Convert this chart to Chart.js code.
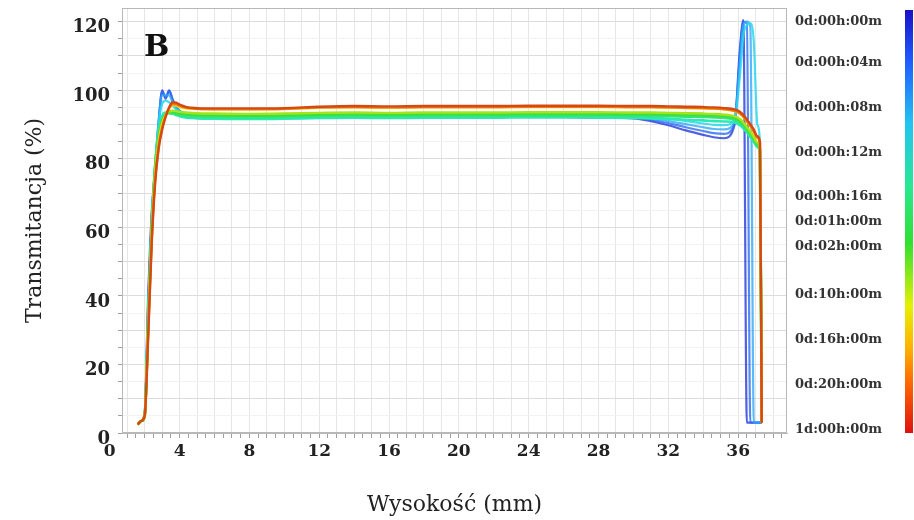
<!DOCTYPE html>
<html>
<head>
<meta charset="utf-8">
<title>Transmitancja</title>
<script src="https://cdn.jsdelivr.net/npm/chart.js@4/dist/chart.umd.min.js"></script>
<style>
  html, body { margin: 0; padding: 0; background: #fff; }
  #wrap { width: 914px; height: 520px; }
</style>
</head>
<body>
<div id="wrap"><canvas id="chart"></canvas></div>
<script>
// measurement heights (mm), shared by every curve
const heights = [1.6, 1.8, 2.0, 2.2, 2.4, 2.6, 2.8, 3.0, 3.2, 3.4, 3.6, 3.8, 4.0, 4.4, 5, 6, 8, 10, 12, 14, 16, 18, 20, 22, 24, 26, 28, 30, 31, 32, 33, 34, 34.6, 35.2, 35.8, 36.1, 36.3, 36.5, 36.7, 36.9, 37.1, 37.25, 37.35];

const seriesLabels = ['0d:00h:00m', '0d:00h:04m', '0d:00h:08m', '0d:00h:12m', '0d:00h:16m', '0d:01h:00m', '0d:02h:00m', '0d:10h:00m', '0d:16h:00m', '0d:20h:00m', '1d:00h:00m'];

// transmission (%) per scan time
const t00m = [2.5, 3.5, 6, 40, 64, 77, 90, 100, 97.5, 100, 97, 95, 93.8, 92.8, 92.2, 92, 91.9, 92, 92.2, 92.3, 92.2, 92.3, 92.3, 92.2, 92.3, 92.2, 92, 91.8, 91, 89.8, 88.3, 87, 86.3, 86, 90, 112, 120.5, 3, 3, 3, 3, 3, 3];
const t04m = [2.5, 3.5, 5.5, 38, 63, 77, 91, 99.5, 98, 99.8, 97.5, 95.2, 94, 93, 92.4, 92.2, 92.1, 92.2, 92.4, 92.5, 92.4, 92.5, 92.5, 92.4, 92.5, 92.4, 92.2, 92, 91.4, 90.4, 89.2, 88.1, 87.5, 87.3, 90.6, 110, 120, 119.5, 3, 3, 3, 3, 3];
const t08m = [2.5, 3.5, 5, 36, 62, 78, 91, 98.5, 98.5, 98.5, 96.5, 95, 94, 93.2, 92.6, 92.4, 92.3, 92.4, 92.6, 92.7, 92.6, 92.7, 92.7, 92.6, 92.7, 92.6, 92.5, 92.3, 91.8, 91, 90.1, 89.2, 88.7, 88.6, 91, 108, 119, 120, 118.5, 3, 3, 3, 3];
const t12m = [2.5, 3.5, 5, 35, 61, 78, 90, 96, 97, 96.5, 95.5, 94.5, 93.8, 93.2, 92.8, 92.6, 92.5, 92.6, 92.8, 92.9, 92.8, 92.9, 92.9, 92.8, 92.9, 92.8, 92.7, 92.6, 92.2, 91.7, 91, 90.3, 89.9, 89.8, 91.5, 104, 116, 119, 119.5, 114, 90, 85, 3];
const t16m = [2.5, 3.5, 5, 34, 60, 78, 88, 92.5, 93.5, 93.5, 93.2, 92.8, 92.4, 92, 91.8, 91.7, 91.6, 91.7, 91.9, 92, 91.9, 92, 92, 92, 92.1, 92.1, 92, 91.9, 91.8, 91.6, 91.4, 91.2, 91, 90.9, 90.6, 89.8, 88.9, 87.7, 86.4, 85, 83.4, 82, 3];
const t01h = [2.5, 3.5, 5, 33, 60, 78, 87, 91.5, 93, 93.3, 93.2, 93, 92.8, 92.5, 92.3, 92.2, 92.1, 92.2, 92.4, 92.5, 92.4, 92.5, 92.5, 92.5, 92.6, 92.6, 92.6, 92.5, 92.5, 92.4, 92.3, 92.2, 92.1, 91.9, 91.4, 90.5, 89.6, 88.3, 87, 85.5, 83.8, 82.3, 3];
const t02h = [2.5, 3.5, 5, 32, 59, 77, 86.5, 91, 92.8, 93.5, 93.6, 93.4, 93.2, 93, 92.8, 92.7, 92.6, 92.7, 92.9, 93, 92.9, 93, 93, 93, 93.1, 93.1, 93.1, 93, 93, 92.9, 92.8, 92.7, 92.6, 92.4, 91.9, 91, 90.1, 88.8, 87.4, 85.9, 84.2, 82.6, 3];
const t10h = [2.5, 3.5, 5, 31, 58, 76, 85.5, 90.5, 92.8, 93.8, 94, 93.9, 93.7, 93.5, 93.3, 93.2, 93.1, 93.2, 93.4, 93.5, 93.4, 93.5, 93.5, 93.5, 93.6, 93.6, 93.6, 93.5, 93.5, 93.4, 93.3, 93.2, 93.1, 92.9, 92.4, 91.6, 90.6, 89.3, 87.9, 86.4, 84.7, 83, 3];
const t16h = [2.5, 3.5, 5, 30, 57, 75, 84.5, 90, 92.8, 94.8, 95.6, 95.5, 95.1, 94.7, 94.5, 94.4, 94.4, 94.5, 94.9, 95, 94.9, 95, 95, 95, 95.1, 95.1, 95.1, 95, 95, 94.9, 94.8, 94.7, 94.6, 94.4, 93.9, 93.2, 92.2, 90.9, 89.5, 87.9, 86.1, 84.4, 3];
const t20h = [2.5, 3.5, 5, 29, 56, 74, 83.5, 89, 92.5, 94.8, 96, 96, 95.5, 94.9, 94.6, 94.5, 94.5, 94.6, 95, 95.1, 95, 95.1, 95.1, 95.1, 95.2, 95.2, 95.2, 95.1, 95.1, 95, 94.9, 94.8, 94.7, 94.5, 94, 93.3, 92.3, 91, 89.6, 88, 86.2, 84.5, 3];
const t1d = [2.5, 3.5, 5, 28, 55, 73, 83, 88.5, 92.2, 95, 96.5, 96.4, 95.8, 95.1, 94.8, 94.7, 94.7, 94.8, 95.2, 95.4, 95.3, 95.4, 95.4, 95.4, 95.5, 95.5, 95.5, 95.4, 95.4, 95.3, 95.2, 95.1, 95, 94.8, 94.4, 93.7, 92.8, 91.5, 90.1, 88.5, 86.6, 85, 3];

const seriesValues = [t00m, t04m, t08m, t12m, t16m, t01h, t02h, t10h, t16h, t20h, t1d];

const xTickLabels = [0, 4, 8, 12, 16, 20, 24, 28, 32, 36];
const yTickLabels = [0, 20, 40, 60, 80, 100, 120];
const panelLetter = 'B';


class TransmissionChart {

    constructor() {

        this.colors = ['rgba(38,56,216,0.8)', 'rgba(42,108,246,0.8)', 'rgba(48,168,248,0.8)', 'rgba(40,216,238,0.85)',
            '#2ce8b4', '#32e67a', '#3ae040', '#a6e41a', '#f2d20a', '#f4780c', '#d44a14'];

        this.widths = [2.2, 2.2, 2.2, 2.2, 2.6, 2.6, 2.6, 2.4, 2.4, 2.4, 2.4];

        this.barStops = [[0, '#1a10c8'], [0.12, '#1f5cff'], [0.27, '#22c4f2'], [0.42, '#28e890'],
            [0.55, '#30e030'], [0.7, '#e6f000'], [0.8, '#ffb000'], [0.88, '#ff6a00'], [1, '#e01010']];

        this.legendY = [22, 63, 108, 153, 197, 222, 247, 295, 340, 385, 430];

        this.config = {};
    }

    initConfig() {
        const self = this;

        const datasets = seriesValues.map((vals, i) => ({
            label: seriesLabels[i],
            data: heights.map((h, j) => ({x: h, y: vals[j]})),
            borderColor: self.colors[i],
            borderWidth: self.widths[i],
            pointRadius: 0,
            cubicInterpolationMode: 'monotone',
            order: seriesLabels.length - i
        }));

        const overlay = {
            id: 'overlay',
            afterDraw(chart) {
                const ctx = chart.ctx;
                const a = chart.chartArea;
                ctx.save();
                ctx.strokeStyle = '#b8b8b8';
                ctx.lineWidth = 1;
                ctx.strokeRect(a.left + 0.5, a.top + 0.5, a.right - a.left - 1, a.bottom - a.top - 1);

                ctx.fillStyle = '#111';
                ctx.font = 'bold 30px "DejaVu Serif"';
                ctx.textAlign = 'left';
                ctx.textBaseline = 'middle';
                ctx.fillText(panelLetter, a.left + 22, a.top + 40);

                // time labels + colour bar
                ctx.font = 'bold 13px "DejaVu Serif"';
                ctx.fillStyle = '#333';
                seriesLabels.forEach((lab, i) => ctx.fillText(lab, a.right + 8, self.legendY[i]));

                const g = ctx.createLinearGradient(0, a.top + 2, 0, a.bottom);
                self.barStops.forEach(s => g.addColorStop(s[0], s[1]));
                ctx.fillStyle = g;
                ctx.fillRect(905, a.top + 2, 8, a.bottom - a.top - 2);
                ctx.restore();
            }
        };

        this.config = {
            type: 'line',
            data: {datasets: datasets},
            options: {
                responsive: true,
                maintainAspectRatio: false,
                animation: false,
                layout: {padding: {left: 0, right: 127, top: 8, bottom: 0}},
                plugins: {legend: {display: false}, tooltip: {enabled: false}},
                scales: {
                    x: {
                        type: 'linear',
                        min: 0.7,
                        max: 38.8,
                        afterBuildTicks: (scale) => { scale.ticks.unshift({value: 0}); },
                        afterFit: (scale) => { scale.height = 87; scale.paddingLeft = 0; scale.paddingRight = 0; },
                        ticks: {
                            stepSize: 0.5,
                            includeBounds: false,
                            autoSkip: false,
                            maxRotation: 0,
                            padding: 3,
                            color: '#222',
                            font: {family: 'DejaVu Serif', size: 17, weight: 'bold'},
                            callback: (v) => xTickLabels.includes(v) ? String(v) : ''
                        },
                        grid: {
                            tickLength: 5,
                            color: (c) => (c.tick && c.tick.value > 0 && c.tick.value % 1 === 0) ? '#e6e6e6' : 'rgba(0,0,0,0)',
                            tickColor: (c) => (c.tick && c.tick.value > 0) ? '#a0a0a0' : 'rgba(0,0,0,0)'
                        },
                        border: {color: '#b8b8b8'},
                        title: {
                            display: true,
                            text: 'Wysokość (mm)',
                            color: '#222',
                            font: {family: 'DejaVu Serif', size: 22},
                            padding: {top: 0, bottom: 2}
                        }
                    },
                    y: {
                        min: 0,
                        max: 124,
                        afterFit: (scale) => { scale.width = 122; scale.paddingTop = 0; scale.paddingBottom = 0; },
                        ticks: {
                            stepSize: 5,
                            includeBounds: false,
                            autoSkip: false,
                            padding: 8,
                            labelOffset: 6,
                            color: '#222',
                            font: {family: 'DejaVu Serif', size: 18, weight: 'bold'},
                            callback: (v) => yTickLabels.includes(v) ? String(v) : ''
                        },
                        grid: {
                            tickLength: 4,
                            color: (c) => (c.tick && c.tick.value % 10 === 0) ? '#dcdcdc' : '#f2f2f2',
                            tickColor: '#a0a0a0'
                        },
                        border: {color: '#b8b8b8'},
                        title: {
                            display: true,
                            text: 'Transmitancja (%)',
                            color: '#222',
                            font: {family: 'DejaVu Serif', size: 22},
                            padding: {top: 22, bottom: 0}
                        }
                    }
                }
            },
            plugins: [overlay]
        };
    }

    drawChart(htmlId) {
        const ctx = document.getElementById(htmlId).getContext('2d');
        new Chart(ctx, this.config);
    }
}

const tc = new TransmissionChart();
tc.initConfig();
tc.drawChart('chart');
</script>
</body>
</html>
